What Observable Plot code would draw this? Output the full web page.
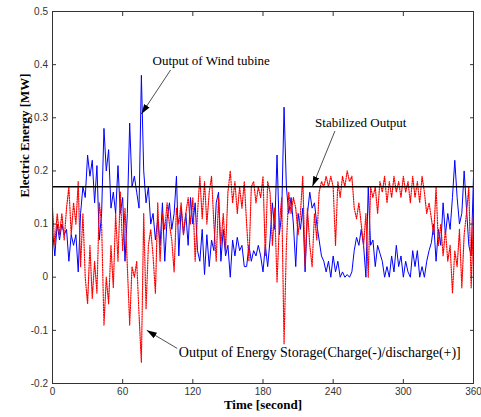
<!DOCTYPE html>
<html><head><meta charset="utf-8">
<script src="https://cdn.jsdelivr.net/npm/d3@7"></script>
<script src="https://cdn.jsdelivr.net/npm/@observablehq/plot@0.6"></script>
<style>body{margin:0;background:#fff}</style>
</head><body><div id="chart"></div>
<script>
// sampling step of the series (seconds)
const timeStep = 2;
// Output of wind turbine [MW], t = 0..360 step 2
const windOutput = [
  0.09,0.04,0.10,0.07,0.10,0.08,0.09,0.03,0.08,0.06,
  0.08,0.01,0.12,0.17,0.15,0.23,0.19,0.22,0.14,0.21,
  0.07,0.12,0.28,0.20,0.24,0.13,0.16,0.12,0.21,0.12,
  0.15,0.03,0.12,0.29,0.17,0.19,0.16,0.13,0.38,0.20,
  0.14,0.17,0.10,0.12,0.07,0.11,0.06,0.14,0.03,0.11,
  0.14,0.09,0.12,0.19,0.04,0.13,0.08,0.12,0.06,0.15,
  0.10,0.14,0.05,0.03,0.09,0.005,0.08,0.02,0.07,0.05,
  0.14,0.16,0.03,0.09,0.04,0.06,0.00,0.07,0.04,0.075,
  0.05,0.06,0.02,0.02,0.06,0.03,0.05,0.04,0.06,0.04,
  0.01,0.06,0.02,0.07,0.14,0.09,0.23,0.08,0.12,0.32,
  0.17,0.12,0.15,0.10,0.02,0.12,0.09,0.13,0.01,0.12,
  0.16,0.13,0.14,0.10,0.07,0.04,0.03,0.01,0.03,0.00,
  0.04,0.01,0.03,0.00,0.01,0.00,0.005,0.00,0.01,0.05,
  0.075,0.06,0.09,0.06,0.00,0.17,0.06,0.07,0.02,0.06,
  0.045,0.03,0.00,0.02,0.00,0.04,0.01,0.06,0.02,0.04,
  0.00,0.03,0.01,0.00,0.05,0.02,0.05,0.00,0.02,0.00,
  0.03,0.05,0.065,0.10,0.03,0.09,0.06,0.14,0.08,0.12,
  0.09,0.15,0.22,0.15,0.10,0.12,0.20,0.13,0.06,0.04,
  0.19
];
// Output of energy storage [MW], t = 0..360 step 2
const storageOutput = [
  0.13,0.06,0.12,0.08,0.12,0.07,0.13,0.17,0.08,0.14,
  0.10,0.18,0.02,0.12,0.00,-0.05,0.06,-0.04,0.03,-0.03,
  0.14,0.10,-0.09,0.00,-0.05,0.06,-0.02,0.12,0.03,0.16,
  0.05,0.13,0.02,-0.09,0.02,0.00,0.03,-0.07,-0.16,0.12,
  -0.06,0.06,0.09,0.04,-0.03,0.14,0.03,0.12,0.09,0.14,
  0.10,0.07,0.01,0.13,0.10,0.14,0.08,0.12,0.15,0.10,
  0.15,0.03,0.12,0.19,0.11,0.18,0.10,0.16,0.19,0.10,
  0.03,0.15,0.06,0.12,0.05,0.16,0.20,0.14,0.18,0.12,
  0.17,0.13,0.18,0.10,0.03,0.17,0.18,0.14,0.17,0.15,
  0.19,0.04,0.18,0.16,0.06,0.13,-0.01,0.10,0.15,-0.125,
  0.06,0.16,0.12,0.15,0.13,0.08,0.12,0.19,0.02,0.13,
  0.06,0.02,0.12,0.07,0.16,0.18,0.17,0.19,0.17,0.19,
  0.17,0.06,0.18,0.15,0.19,0.17,0.20,0.18,0.19,0.13,
  0.11,0.14,0.10,0.06,0.12,0.00,0.17,0.15,0.17,0.12,
  0.18,0.16,0.19,0.14,0.18,0.15,0.19,0.16,0.18,0.15,
  0.19,0.16,0.18,0.14,0.19,0.15,0.18,0.14,0.19,0.16,
  0.12,0.14,0.11,0.08,0.17,0.06,0.10,0.04,0.09,0.03,
  0.06,-0.03,0.05,0.02,0.09,-0.02,0.08,0.12,0.17,-0.02,
  0.12
];
// Stabilized output level [MW]
const stabilizedLevel = 0.17;
const xTicks = [0, 60, 120, 180, 240, 300, 360];
const yTicks = [-0.2, -0.1, 0, 0.1, 0.2, 0.3, 0.4, 0.5];
const xLabel = "Time [second]";
const yLabel = "Electric Energy [MW]";
// annotation labels (anchor in data coordinates: time, value)
const noteLabels = ["Output of Wind tubine", "Stabilized Output", "Output of Energy Storage(Charge(-)/discharge(+)]"];
const noteT = [85.5, 224.5, 108];
const noteV = [0.407, 0.291, -0.142];
const noteSize = [13, 13, 14];
// annotation arrows: from (t1,v1) to (t2,v2)
const arrowT1 = [101, 241.5, 106.7];
const arrowV1 = [0.390, 0.275, -0.134];
const arrowT2 = [76, 222.3, 80.6];
const arrowV2 = [0.307, 0.171, -0.100];

const wind = windOutput.map((v, i) => ({t: i * timeStep, v}));
const storage = storageOutput.map((v, i) => ({t: i * timeStep, v}));
const notes = noteLabels.map((label, i) => ({label, t: noteT[i], v: noteV[i], size: noteSize[i]}));
const arrows = arrowT1.map((t1, i) => ({t1, v1: arrowV1[i], t2: arrowT2[i], v2: arrowV2[i]}));

function filledArrow(color) {
  const m = d3.create("svg:marker")
    .attr("viewBox", "-10 -4 10 8")
    .attr("markerWidth", 10).attr("markerHeight", 8)
    .attr("refX", 0).attr("refY", 0)
    .attr("orient", "auto")
    .attr("markerUnits", "userSpaceOnUse")
    .attr("fill", "#000").attr("stroke", "none");
  m.append("path").attr("d", "M-10,-3.2L0,0L-10,3.2Z");
  return m.node();
}

const serif = "'Liberation Serif', 'Times New Roman', serif";
const fmt = d => String(d);

const chart = Plot.plot({
  width: 481, height: 417,
  marginLeft: 52, marginRight: 8, marginTop: 11, marginBottom: 34,
  style: {fontFamily: "'Liberation Sans', Arial, sans-serif", fontSize: "10px", background: "#fff", color: "#333"},
  x: {domain: [0, 360]},
  y: {domain: [-0.2, 0.5]},
  marks: [
    Plot.line(wind, {x: "t", y: "v", stroke: "#0000ff", strokeWidth: 1}),
    Plot.line(storage, {x: "t", y: "v", stroke: "#ff0000", strokeWidth: 1.2, strokeDasharray: "1.2,1.3"}),
    Plot.ruleY([stabilizedLevel], {stroke: "#000", strokeWidth: 1.5}),
    Plot.frame({stroke: "#333"}),
    Plot.axisX(xTicks, {anchor: "bottom", tickSize: -4, tickPadding: 8, tickFormat: fmt, label: null, fill: "#333"}),
    Plot.axisX(xTicks, {anchor: "top", tickSize: -4, tickFormat: () => "", label: null}),
    Plot.axisY(yTicks, {anchor: "left", tickSize: -4, tickPadding: 8.5, tickFormat: fmt, label: null, fill: "#333"}),
    Plot.axisY(yTicks, {anchor: "right", tickSize: -4, tickFormat: () => "", label: null}),
    Plot.link(arrows, {x1: "t1", y1: "v1", x2: "t2", y2: "v2", stroke: "#222", strokeWidth: 0.8, markerEnd: filledArrow}),
    Plot.text(notes, {x: "t", y: "v", text: "label", textAnchor: "start", fontFamily: serif, fontSize: "size", fill: "#000"}),
    Plot.text([xLabel], {frameAnchor: "bottom", dy: 25, fontFamily: serif, fontWeight: "bold", fontSize: 13, fill: "#000"}),
    Plot.text([yLabel], {frameAnchor: "left", dx: -28, rotate: -90, fontFamily: serif, fontWeight: "bold", fontSize: 13, fill: "#000"})
  ]
});
document.getElementById("chart").appendChild(chart);
</script>
</body></html>
